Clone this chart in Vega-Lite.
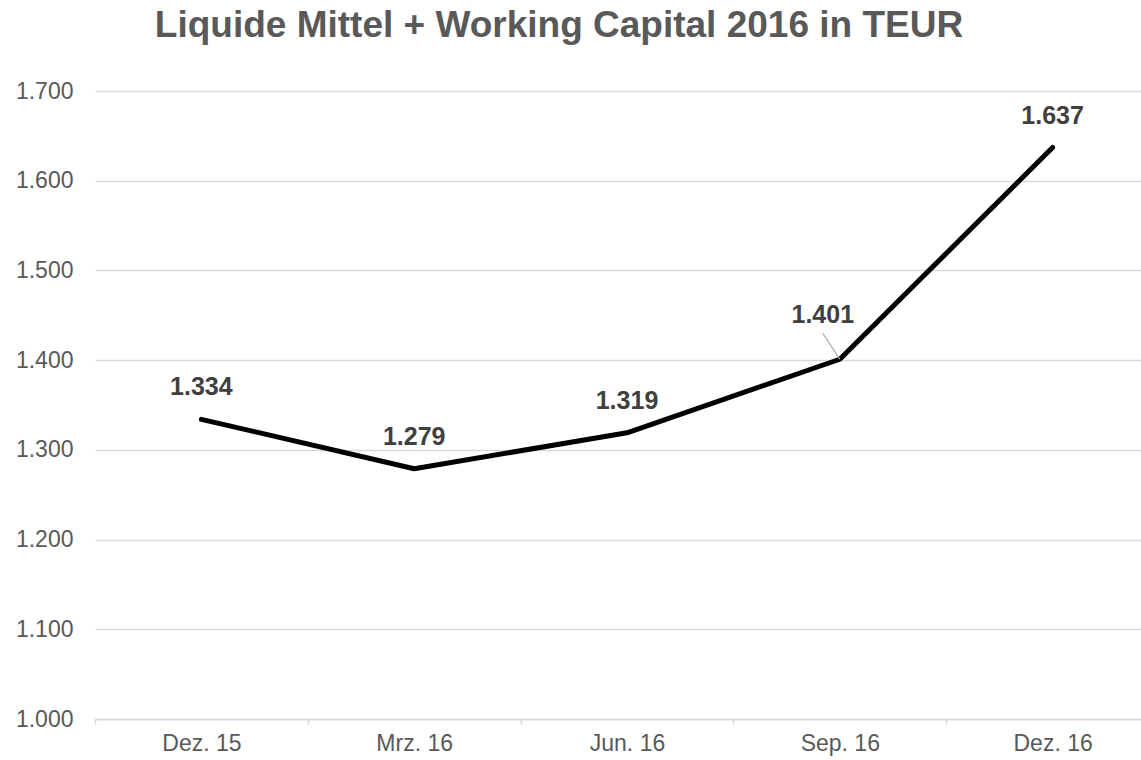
{
  "$schema": "https://vega.github.io/schema/vega-lite/v6.json",
  "autosize": {"type": "none"},
  "padding": {"top": 91, "left": 95, "right": 0, "bottom": 41},
  "width": 1046,
  "height": 628,
  "background": "white",
  "title": {
    "text": "Liquide Mittel + Working Capital 2016 in TEUR",
    "font": "Liberation Sans",
    "fontSize": 37,
    "fontWeight": "bold",
    "color": "#595959",
    "anchor": "middle",
    "frame": "group",
    "dx": -59,
    "baseline": "alphabetic",
    "offset": 6
  },
  "config": {
    "locale": {
      "number": {"decimal": ",", "thousands": ".", "grouping": [3], "currency": ["", " €"]}
    },
    "view": {"stroke": null},
    "font": "Liberation Sans"
  },
  "data": {
    "values": [
      {"monat": "Dez. 15", "wert": 1334},
      {"monat": "Mrz. 16", "wert": 1279},
      {"monat": "Jun. 16", "wert": 1319},
      {"monat": "Sep. 16", "wert": 1401},
      {"monat": "Dez. 16", "wert": 1637}
    ]
  },
  "encoding": {
    "x": {
      "field": "monat",
      "type": "nominal",
      "sort": null,
      "scale": {"range": [0, 1064], "paddingInner": 0, "paddingOuter": 0},
      "axis": {
        "title": null,
        "labelAngle": 0,
        "labelFont": "Liberation Sans",
        "labelFontSize": 23,
        "labelColor": "#595959",
        "labelPadding": 8,
        "domainColor": "#d9d9d9",
        "domainWidth": 1.5,
        "tickColor": "#d9d9d9",
        "tickWidth": 1.5,
        "tickSize": 5,
        "tickBand": "extent",
        "grid": false
      }
    },
    "y": {
      "field": "wert",
      "type": "quantitative",
      "scale": {"domain": [1000, 1700], "nice": false, "zero": false},
      "axis": {
        "title": null,
        "values": [1000, 1100, 1200, 1300, 1400, 1500, 1600, 1700],
        "format": ",d",
        "labelFont": "Liberation Sans",
        "labelFontSize": 23,
        "labelColor": "#595959",
        "labelPadding": 22,
        "ticks": false,
        "domain": false,
        "grid": true,
        "gridColor": "#d9d9d9",
        "gridWidth": 1.5
      }
    }
  },
  "layer": [
    {
      "mark": {"type": "line", "color": "#000000", "strokeWidth": 5, "strokeCap": "round", "strokeJoin": "round"}
    },
    {
      "transform": [{"filter": "datum.monat === 'Sep. 16'"}],
      "mark": {"type": "rule", "color": "#a6a6a6", "strokeWidth": 1.2, "x2Offset": -17},
      "encoding": {
        "x2": {"field": "monat"},
        "y2": {"datum": 1430}
      }
    },
    {
      "transform": [{"filter": "datum.monat !== 'Sep. 16'"}],
      "mark": {"type": "text", "font": "Liberation Sans", "fontSize": 25, "fontWeight": "bold", "color": "#404040", "baseline": "alphabetic", "dy": -24},
      "encoding": {
        "text": {"field": "wert", "type": "quantitative", "format": ",d"}
      }
    },
    {
      "transform": [{"filter": "datum.monat === 'Sep. 16'"}],
      "mark": {"type": "text", "font": "Liberation Sans", "fontSize": 25, "fontWeight": "bold", "color": "#404040", "baseline": "alphabetic", "dx": -17, "dy": -36},
      "encoding": {
        "text": {"field": "wert", "type": "quantitative", "format": ",d"}
      }
    }
  ]
}
